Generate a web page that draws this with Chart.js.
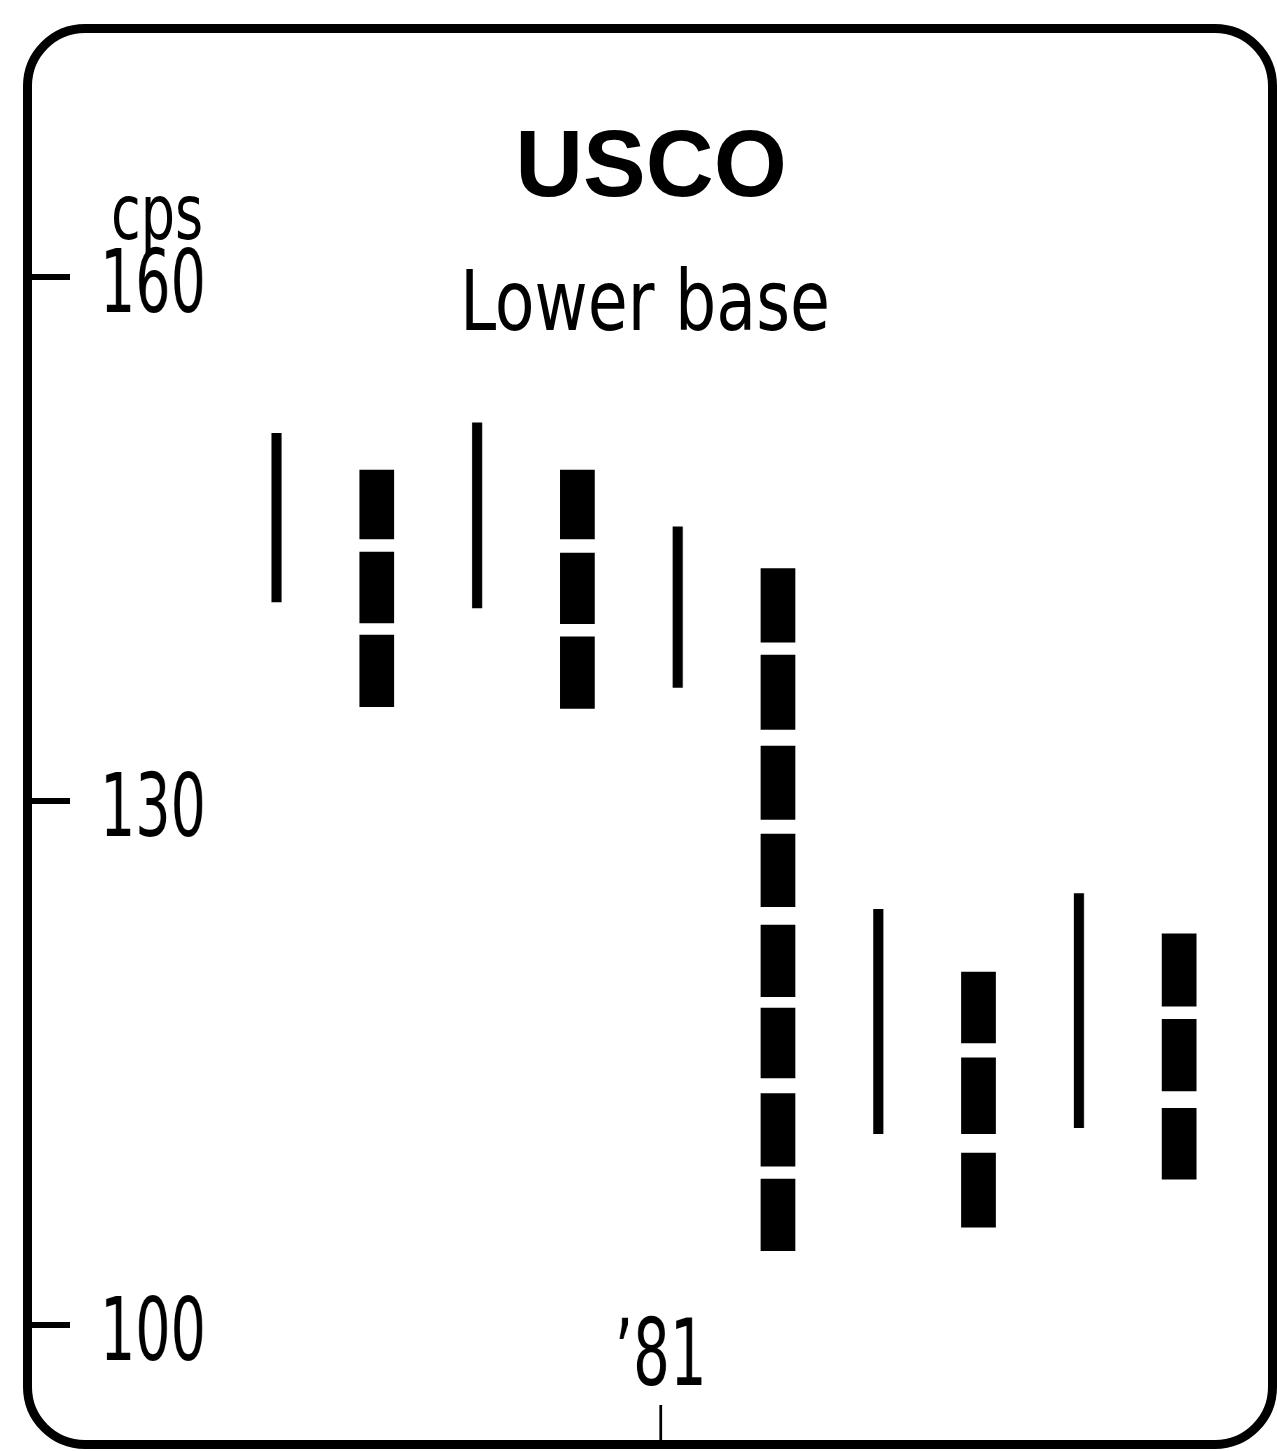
<!DOCTYPE html>
<html>
<head>
<meta charset="utf-8">
<script src="https://cdn.jsdelivr.net/npm/chart.js@4"></script>
<style>
  html, body { margin: 0; padding: 0; background: #fff; }
  #wrap { position: relative; width: 1277px; height: 1451px; overflow: hidden; }
  /* the drawing is made 1/0.7 wider and squeezed back: gives the narrow type of the original */
  #c { position: absolute; left: 0; top: 0; transform: scaleX(0.7); transform-origin: 0 0; }
  #frame { position: absolute; left: 23px; top: 24px; width: 1254px; height: 1425px;
           box-sizing: border-box; border: 9px solid #000; border-radius: 62px; }
  .txt { position: absolute; white-space: nowrap; color: #000; line-height: 1; }
  #title { left: 651px; top: 110px; transform: translateX(-50%);
           font: bold 94px "Liberation Sans", Arial, sans-serif; }
  #subtitle { left: 645px; top: 252px; transform: translateX(-50%) scaleX(0.86);
           font: 84px "DejaVu Sans Condensed", "DejaVu Sans", sans-serif; }
  #unit { left: 111px; top: 168px; transform: scaleX(0.78); transform-origin: 0 0;
           font: 77px "DejaVu Sans Condensed", "DejaVu Sans", sans-serif; }
</style>
</head>
<body>
<div id="wrap">
  <canvas id="c" width="1825" height="1451"></canvas>
  <div id="frame"></div>
  <div class="txt" id="title"></div>
  <div class="txt" id="subtitle"></div>
  <div class="txt" id="unit"></div>
</div>
<script>
// ---- data ----
const titleText = "USCO";
const subtitleText = "Lower base";
const unitText = "cps";

const yTickValues = [100, 130, 160];
const xTickValues = [4.83];
const xTickLabels = ["\u201981"];

// thin (line) bars: position, low, high
const thinPositions = [1, 3, 5, 7, 9];
const thinLow  = [141.4, 141.05, 136.5, 110.95, 111.3];
const thinHigh = [151.05, 151.65, 145.7, 123.8, 124.7];

// thick (dashed) bars: position and their segments [low, high]
const thickPositions = [2, 4, 6, 8, 10];
const bar2Segments  = [[145.0, 148.95], [140.2, 144.25], [135.4, 139.5]];
const bar4Segments  = [[145.0, 148.95], [140.15, 144.2], [135.3, 139.4]];
const bar6Segments  = [[139.1, 143.3], [134.1, 138.35], [128.95, 133.15], [123.95, 128.1],
                       [118.8, 122.9], [114.15, 118.15], [109.1, 113.25], [104.25, 108.35]];
const bar8Segments  = [[116.15, 120.2], [110.95, 115.3], [105.6, 109.85]];
const bar10Segments = [[118.25, 122.4], [113.4, 117.5], [108.35, 112.4]];
const thickSegments = [bar2Segments, bar4Segments, bar6Segments, bar8Segments, bar10Segments];

document.getElementById('title').textContent = titleText;
document.getElementById('subtitle').textContent = subtitleText;
document.getElementById('unit').textContent = unitText;

// ---- build chart ----
const thinData = thinPositions.map((x, i) => ({ x: x, y: [thinLow[i], thinHigh[i]] }));
const thickData = [];
thickPositions.forEach((x, i) => {
  thickSegments[i].forEach(seg => thickData.push({ x: x, y: [seg[0], seg[1]] }));
});

const cond = '"DejaVu Sans Condensed", "DejaVu Sans", sans-serif';
const X_MIN = -1.059, X_MAX = 10.806;

const chart = new Chart(document.getElementById('c'), {
  type: 'bar',
  data: {
    datasets: [
      { label: 'thin', data: thinData, backgroundColor: '#000', borderWidth: 0,
        barThickness: 14, grouped: false, xAxisID: 'x', yAxisID: 'y' },
      { label: 'thick', data: thickData, backgroundColor: '#000', borderWidth: 0,
        barThickness: 49, grouped: false, xAxisID: 'x', yAxisID: 'y' }
    ]
  },
  options: {
    responsive: false,
    animation: false,
    devicePixelRatio: 1,
    layout: { padding: { left: 43, right: 25, top: 100, bottom: 6 } },
    plugins: { legend: { display: false }, tooltip: { enabled: false }, title: { display: false } },
    scales: {
      x: {
        type: 'linear', position: 'bottom', weight: 0, offset: false,
        min: X_MIN, max: X_MAX,
        grid: { display: false, drawTicks: false, offset: false },
        border: { display: false },
        afterBuildTicks: s => { s.ticks = xTickValues.map(v => ({ value: v })); },
        afterFit: s => { s.height = 95; },
        ticks: {
          autoSkip: false, maxRotation: 0, minRotation: 0, padding: 6,
          color: '#000', font: { family: cond, size: 92, lineHeight: 0.98 },
          callback: (v, i) => xTickLabels[i]
        }
      },
      x2: {
        type: 'linear', position: 'bottom', weight: 1, offset: false,
        min: X_MIN, max: X_MAX,
        grid: { display: true, drawOnChartArea: false, drawTicks: true, tickLength: 40,
                color: '#000', lineWidth: 4, offset: false },
        border: { display: false },
        afterBuildTicks: s => { s.ticks = xTickValues.map(v => ({ value: v })); },
        afterFit: s => { s.height = 40; },
        ticks: { display: false }
      },
      y: {
        type: 'linear', position: 'left',
        min: 100.859, max: 170.133,
        grid: { display: true, drawOnChartArea: false, drawTicks: true, tickLength: 57,
                color: '#000', lineWidth: 6 },
        border: { display: false },
        afterBuildTicks: s => { s.ticks = yTickValues.map(v => ({ value: v })); },
        afterFit: s => { s.width = 57; },
        ticks: {
          mirror: true, padding: 43, labelOffset: 12, color: '#000', autoSkip: false,
          font: { family: cond, size: 88, lineHeight: 1 },
          callback: v => String(v)
        }
      }
    }
  }
});
</script>
</body>
</html>
